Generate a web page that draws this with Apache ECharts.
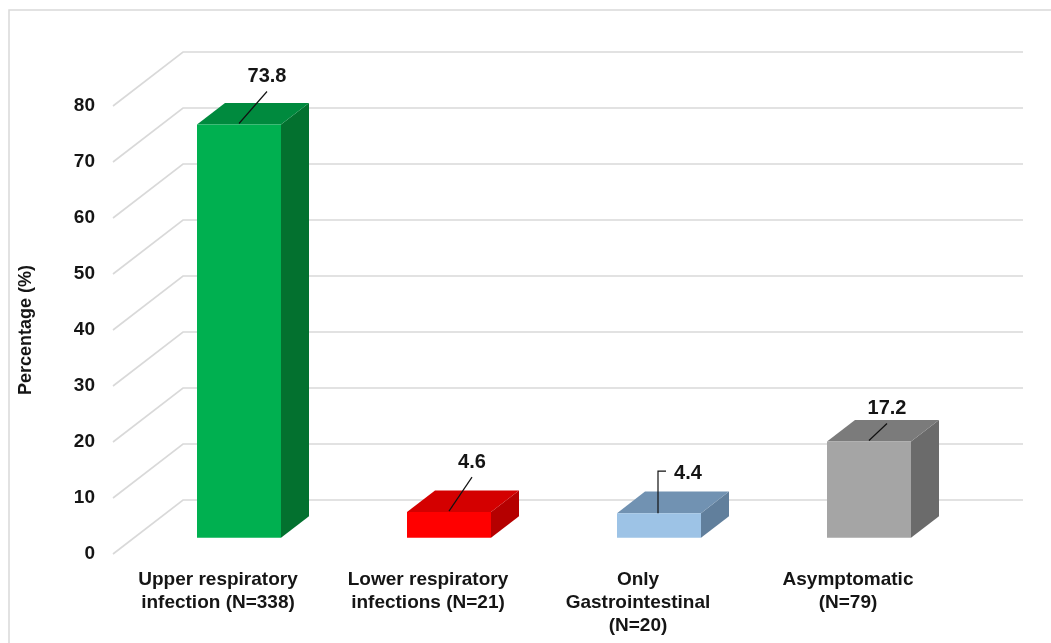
<!DOCTYPE html>
<html>
<head>
<meta charset="utf-8">
<title>Symptom distribution</title>
<script src="https://cdn.jsdelivr.net/npm/echarts@6/dist/echarts.min.js"></script>
<style>
  html, body { margin: 0; padding: 0; background: #ffffff; }
  #chart { width: 1051px; height: 643px; }
</style>
</head>
<body>
<div id="chart"></div>
<script>
// Category labels, values and axis ticks
const categories = [
  'Upper respiratory\ninfection (N=338)',
  'Lower respiratory\ninfections (N=21)',
  'Only\nGastrointestinal\n(N=20)',
  'Asymptomatic\n(N=79)'
];
const percentages = [73.8, 4.6, 4.4, 17.2];
const yTicks = [0, 10, 20, 30, 40, 50, 60, 70, 80];

// Face colours for each bar: front, top, side
const barColors = [
  { front: '#00b050', top: '#008a3e', side: '#03712f' },
  { front: '#ff0000', top: '#d40000', side: '#b50000' },
  { front: '#9dc3e6', top: '#7192b2', side: '#617f9c' },
  { front: '#a5a5a5', top: '#7b7b7b', side: '#6b6b6b' }
];

// Value-label placement relative to the top-front edge centre of each bar
const labelLayout = [
  { dx: 28, dy: -48, leader: 'straight' },
  { dx: 23, dy: -50, leader: 'straight' },
  { dx: 29, dy: -40, leader: 'elbow' },
  { dx: 18, dy: -33, leader: 'straight' }
];

// Perspective depth of the chart box (front wall -> back wall)
const DEPTH = [70, -54];
const BAR_FRONT = 0.3;   // bar front plane, as a fraction of DEPTH
const BAR_DEPTH = 0.4;   // bar thickness, as a fraction of DEPTH
const FONT = '"Liberation Sans", Arial, sans-serif';
const TEXT = '#151515';
const GRID_LINE = '#d9d9d9';

const chart = echarts.init(document.getElementById('chart'));

// Grid 0: front wall plane (axis labels + wall gridlines)
// Grid 1: bar front plane, shifted back into the box
const frontGrid = { left: 113, right: 98, top: 106, bottom: 89 };
const barGrid = {
  left: frontGrid.left + DEPTH[0] * BAR_FRONT,
  right: frontGrid.right - DEPTH[0] * BAR_FRONT,
  top: frontGrid.top + DEPTH[1] * BAR_FRONT,
  bottom: frontGrid.bottom - DEPTH[1] * BAR_FRONT
};

function renderWallLine(params, api) {
  const cs = params.coordSys;
  const y = api.coord([0, api.value(0)])[1];
  const x0 = cs.x;
  const x1 = cs.x + DEPTH[0];
  const y1 = y + DEPTH[1];
  const x2 = cs.x + cs.width + DEPTH[0];
  return {
    type: 'polyline',
    shape: { points: [[x0, y], [x1, y1], [x2, y1]] },
    style: { stroke: GRID_LINE, lineWidth: 1.6, fill: null }
  };
}

function renderBar(params, api) {
  const i = params.dataIndex;
  const v = api.value(1);
  const top = api.coord([i, v]);
  const base = api.coord([i, 0]);
  const w = api.size([1, 0])[0] * 0.4;
  const l = top[0] - w / 2, r = top[0] + w / 2;
  const ty = top[1], by = base[1];
  const dx = DEPTH[0] * BAR_DEPTH, dy = DEPTH[1] * BAR_DEPTH;
  const c = barColors[i];
  const lay = labelLayout[i];
  const cx = top[0], tx = cx + lay.dx, tyText = ty + lay.dy;

  const children = [
    { type: 'polygon', shape: { points: [[r, ty], [r + dx, ty + dy], [r + dx, by + dy], [r, by]] },
      style: { fill: c.side } },
    { type: 'polygon', shape: { points: [[l, ty], [r, ty], [r + dx, ty + dy], [l + dx, ty + dy]] },
      style: { fill: c.top } },
    { type: 'rect', shape: { x: l, y: ty, width: w, height: by - ty },
      style: { fill: c.front } }
  ];

  let leaderPts;
  if (lay.leader === 'elbow') {
    leaderPts = [[cx - 1, ty], [cx - 1, tyText - 2], [tx - 22, tyText - 2]];
  } else {
    leaderPts = [[cx, ty - 1], [tx, tyText + 15]];
  }
  children.push({
    type: 'polyline', shape: { points: leaderPts },
    style: { stroke: '#111', lineWidth: 1.2, fill: null }
  });
  children.push({
    type: 'text',
    style: {
      x: tx, y: tyText, text: String(v),
      align: 'center', verticalAlign: 'middle',
      font: 'bold 20px ' + FONT, fill: TEXT
    }
  });
  return { type: 'group', children };
}

chart.setOption({
  animation: false,
  backgroundColor: '#ffffff',
  graphic: [{
    type: 'rect', silent: true, z: -10,
    shape: { x: 9, y: 10, width: 1100, height: 700 },
    style: { fill: null, stroke: GRID_LINE, lineWidth: 1.5 }
  }],
  grid: [
    Object.assign({}, frontGrid),
    Object.assign({}, barGrid)
  ],
  xAxis: [
    {
      gridIndex: 0, type: 'category', data: categories,
      axisLine: { show: false }, axisTick: { show: false }, splitLine: { show: false },
      axisLabel: {
        interval: 0, margin: 14, color: TEXT,
        fontFamily: FONT, fontWeight: 'bold', fontSize: 19, lineHeight: 23
      }
    },
    {
      gridIndex: 1, type: 'category', data: categories, show: false
    }
  ],
  yAxis: [
    {
      gridIndex: 0, type: 'value', min: 0, max: 80, interval: 10,
      name: 'Percentage (%)', nameLocation: 'middle', nameGap: 78,
      nameTextStyle: { color: TEXT, fontFamily: FONT, fontWeight: 'bold', fontSize: 18 },
      axisLine: { show: false }, axisTick: { show: false }, splitLine: { show: false },
      axisLabel: {
        margin: 18, color: TEXT, fontFamily: FONT, fontWeight: 'bold', fontSize: 19,
        lineHeight: 24, verticalAlign: 'middle'
      }
    },
    {
      gridIndex: 1, type: 'value', min: 0, max: 80, interval: 10, show: false,
      splitLine: { show: false }
    }
  ],
  series: [
    {
      type: 'custom', xAxisIndex: 0, yAxisIndex: 0, z: 1,
      data: yTicks.map(t => [t]),
      encode: { y: 0 },
      renderItem: renderWallLine,
      silent: true
    },
    {
      type: 'custom', xAxisIndex: 1, yAxisIndex: 1, z: 5,
      data: percentages.map((p, i) => [i, p]),
      encode: { x: 0, y: 1 },
      renderItem: renderBar,
      clip: false
    }
  ]
});
</script>
</body>
</html>
